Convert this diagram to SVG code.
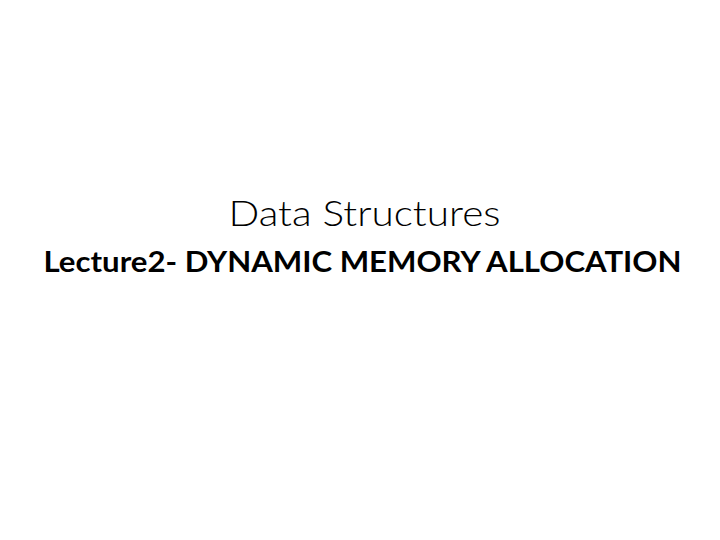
<svg xmlns="http://www.w3.org/2000/svg" width="720" height="540" viewBox="0 0 720 540">
<style>
.t1{font-family:Lato,"Open Sans","Liberation Sans",sans-serif;font-weight:300;font-size:36px;fill:#000}
.t2{font-family:Lato,"Open Sans","Liberation Sans",sans-serif;font-weight:700;font-size:29px;fill:#000}
</style>
<rect width="720" height="540" fill="#fff"/>
<g id="title">
<text class="t1" x="364.5" y="226" text-anchor="middle" textLength="272" lengthAdjust="spacingAndGlyphs">Data Structures</text>
<text class="t2" x="362.5" y="272" text-anchor="middle" textLength="638" lengthAdjust="spacingAndGlyphs">Lecture2- DYNAMIC MEMORY ALLOCATION</text>
</g>
</svg>
